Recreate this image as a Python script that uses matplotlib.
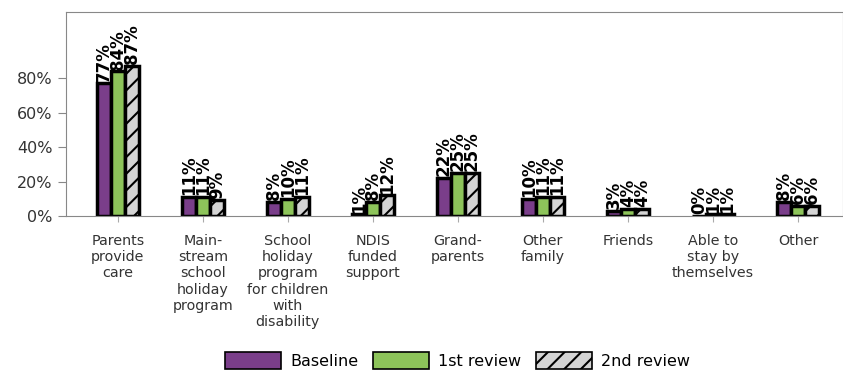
import matplotlib
matplotlib.use("Agg")
import matplotlib.pyplot as plt
import numpy as np

categories = ["Parents\nprovide\ncare", "Main-\nstream\nschool\nholiday\nprogram",
              "School\nholiday\nprogram\nfor children\nwith\ndisability",
              "NDIS\nfunded\nsupport", "Grand-\nparents", "Other\nfamily", "Friends",
              "Able to\nstay by\nthemselves", "Other"]
baseline = [77, 11, 8, 1, 22, 10, 3, 0, 8]
review1 = [84, 11, 10, 8, 25, 11, 4, 1, 6]
review2 = [87, 9, 11, 12, 25, 11, 4, 1, 6]
series_names = ["Baseline", "1st review", "2nd review"]
yticks = [0, 20, 40, 60, 80]

plt.rcParams['hatch.linewidth'] = 1.5
fig = plt.figure(figsize=(8.43, 3.74), dpi=100)
ax = fig.add_axes([0.078, 0.4225, 0.922, 0.5455])

x = np.arange(len(categories))
w = 0.165
colors = ["#7A3E8A", "#8DC45A", "#D4D4D4"]
hatches = [None, None, "//"]
for i, (vals, name) in enumerate(zip([baseline, review1, review2], series_names)):
    bars = ax.bar(x + (i - 1) * w, vals, w, color=colors[i], edgecolor="black",
                  linewidth=2.5, hatch=hatches[i], label=name)
    for b, v in zip(bars, vals):
        ax.text(b.get_x() + b.get_width() / 2, v + 1, f"{v}%", rotation=90,
                ha="center", va="bottom", fontsize=12, fontweight="bold")

ax.set_xlim(-0.612, 8.53)
ax.set_ylim(0, 118.5)
ax.set_yticks(yticks)
ax.set_yticklabels([f"{t}%" for t in yticks], fontsize=11.5, color="#333333")
ax.set_xticks(x)
ax.set_xticklabels(categories, fontsize=10.3, color="#333333", linespacing=1.2)
for s in ax.spines.values():
    s.set_color("#888888")
ax.tick_params(axis="y", color="#888888", length=6)
ax.tick_params(axis="x", color="#aaaaaa", length=4, pad=9)

leg = fig.legend(loc="lower center", bbox_to_anchor=(0.543, -0.025), ncol=3, frameon=False,
                 fontsize=11.5, handlelength=3.5, handleheight=1.3, columnspacing=0.9,
                 handletextpad=0.6)
for p in leg.get_patches():
    p.set_linewidth(1.2)
fig.savefig("out.png", dpi=100)
